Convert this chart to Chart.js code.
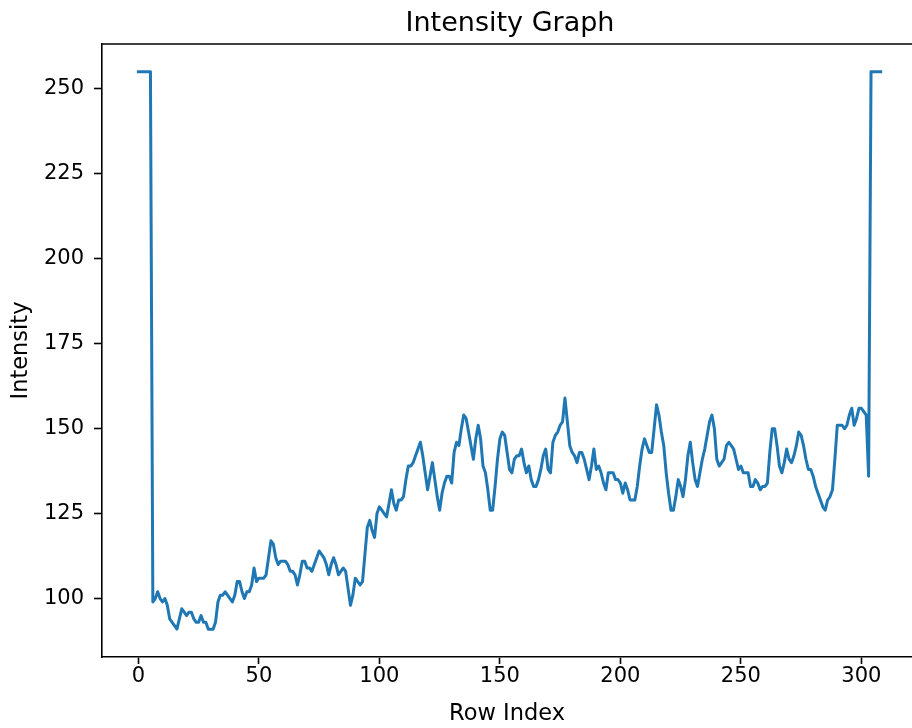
<!DOCTYPE html>
<html>
<head>
<meta charset="utf-8">
<title>Intensity Graph</title>
<script src="https://cdn.jsdelivr.net/npm/chart.js@4.4.1/dist/chart.umd.min.js"></script>
<style>
  html, body { margin: 0; padding: 0; background: #fff; overflow: hidden; }
  #wrap { width: 912px; height: 728px; }
</style>
</head>
<body>
<div id="wrap"><canvas id="intensityChart" width="912" height="728"></canvas></div>
<script>
// intensity per row
const intensity = [
  255, 255, 255, 255, 255, 255, 99, 100, 102, 100,
  99, 100, 98, 94, 93, 92, 91, 94, 97, 96,
  95, 96, 96, 94, 93, 93, 95, 93, 93, 91,
  91, 91, 93, 99, 101, 101, 102, 101, 100, 99,
  101, 105, 105, 102, 100, 102, 102, 104, 109, 105,
  106, 106, 106, 107, 112, 117, 116, 112, 110, 111,
  111, 111, 110, 108, 108, 107, 104, 107, 111, 111,
  109, 109, 108, 110, 112, 114, 113, 112, 110, 107,
  110, 112, 110, 107, 108, 109, 108, 103, 98, 101,
  106, 105, 104, 105, 113, 121, 123, 120, 118, 125,
  127, 126, 125, 124, 128, 132, 128, 126, 129, 129,
  130, 135, 139, 139, 140, 142, 144, 146, 142, 137,
  132, 136, 140, 135, 130, 126, 131, 134, 136, 136,
  134, 143, 146, 145, 150, 154, 153, 149, 145, 141,
  147, 151, 147, 139, 137, 132, 126, 126, 133, 141,
  147, 149, 148, 143, 138, 137, 141, 142, 142, 144,
  140, 137, 139, 135, 133, 133, 135, 138, 142, 144,
  138, 137, 146, 148, 149, 151, 152, 159, 152, 145,
  143, 142, 140, 143, 143, 141, 138, 135, 139, 144,
  138, 139, 137, 134, 132, 137, 137, 137, 135, 135,
  134, 131, 134, 132, 129, 129, 129, 133, 139, 144,
  147, 145, 143, 143, 150, 157, 154, 149, 145, 137,
  131, 126, 126, 130, 135, 133, 130, 135, 142, 146,
  140, 135, 133, 137, 141, 144, 148, 152, 154, 150,
  141, 139, 140, 141, 145, 146, 145, 144, 141, 138,
  139, 137, 137, 137, 133, 133, 135, 134, 132, 133,
  133, 134, 143, 150, 150, 145, 139, 137, 140, 144,
  141, 140, 142, 145, 149, 148, 145, 141, 138, 138,
  136, 133, 131, 129, 127, 126, 129, 130, 132, 141,
  151, 151, 151, 150, 151, 154, 156, 151, 153, 156,
  156, 155, 154, 136, 255, 255, 255, 255, 255
];
const xTicks = [0, 50, 100, 150, 200, 250, 300];
const yTicks = [100, 125, 150, 175, 200, 225, 250];
const chartTitle = 'Intensity Graph';

const points = intensity.map((v, i) => ({ x: i, y: v }));

// top spine + title centred over the axes (like matplotlib)
// the right spine sits just outside the 912px picture, so it is not drawn
const framePlugin = {
  id: 'frame',
  afterDraw(chart) {
    const { ctx, chartArea: a } = chart;
    ctx.save();
    ctx.strokeStyle = '#000';
    ctx.lineWidth = 1.6;
    ctx.beginPath();
    ctx.moveTo(a.left, a.top);
    ctx.lineTo(a.right + 2, a.top);
    ctx.stroke();

    ctx.fillStyle = '#000';
    ctx.font = '27px "DejaVu Sans"';
    ctx.textAlign = 'center';
    ctx.textBaseline = 'alphabetic';
    ctx.fillText(chartTitle, 510, 31);
    ctx.restore();
  }
};

const tickFont = { family: 'DejaVu Sans', size: 21 };
const labelFont = { family: 'DejaVu Sans', size: 22.5 };

new Chart(document.getElementById('intensityChart'), {
  type: 'line',
  data: {
    datasets: [{
      data: points,
      borderColor: '#1f77b4',
      borderWidth: 3,
      pointRadius: 0,
      tension: 0,
      borderJoinStyle: 'round',
      borderCapStyle: 'square',
      fill: false
    }]
  },
  options: {
    responsive: false,
    animation: false,
    parsing: false,
    layout: { padding: { left: 0, right: 0, top: 44, bottom: 0 } },
    plugins: {
      legend: { display: false },
      tooltip: { enabled: false },
      title: { display: false }
    },
    scales: {
      x: {
        type: 'linear',
        min: -15.1,
        max: 321.0,
        afterBuildTicks: s => { s.ticks = xTicks.map(v => ({ value: v })); },
        afterFit: s => { s.height = 71; },
        grid: { drawOnChartArea: false, tickLength: 7, tickWidth: 1.6, tickColor: '#000' },
        border: { color: '#000', width: 1.6 },
        ticks: { color: '#000', font: tickFont, padding: 0, maxRotation: 0 },
        title: { display: true, text: 'Row Index', color: '#000', font: labelFont, padding: { top: 0, bottom: 0 } }
      },
      y: {
        type: 'linear',
        min: 82.8,
        max: 263.2,
        afterBuildTicks: s => { s.ticks = yTicks.map(v => ({ value: v })); },
        afterFit: s => { s.width = 102; },
        grid: { drawOnChartArea: false, tickLength: 8, tickWidth: 1.6, tickColor: '#000' },
        border: { color: '#000', width: 1.6 },
        ticks: { color: '#000', font: tickFont, padding: 10 },
        title: { display: true, text: 'Intensity', color: '#000', font: labelFont, padding: { top: 8, bottom: 0 } }
      }
    }
  },
  plugins: [framePlugin]
});
</script>
</body>
</html>
